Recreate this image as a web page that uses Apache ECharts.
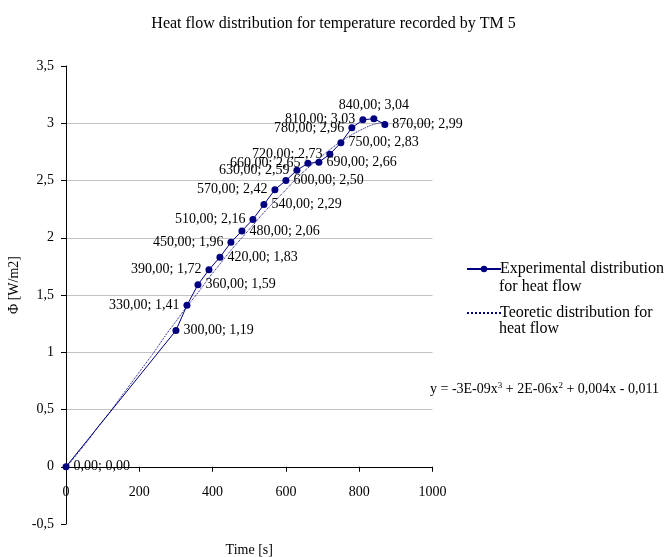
<!DOCTYPE html>
<html>
<head>
<meta charset="utf-8">
<script src="https://cdn.jsdelivr.net/npm/echarts@6/dist/echarts.min.js"></script>
<style>
html,body{margin:0;padding:0;background:#fff;}
#chart{width:667px;height:557px;}
</style>
</head>
<body>
<div id="chart"></div>
<script>
// ---- data ----
const timeS = [0, 300, 330, 360, 390, 420, 450, 480, 510, 540, 570, 600, 630, 660, 690, 720, 750, 780, 810, 840, 870];
const heatFlow = [0.00, 1.19, 1.41, 1.59, 1.72, 1.83, 1.96, 2.06, 2.16, 2.29, 2.42, 2.50, 2.59, 2.65, 2.66, 2.73, 2.83, 2.96, 3.03, 3.04, 2.99];

// dotted trend curve
const trendTime = [0, 30, 60, 90, 120, 150, 180, 210, 240, 270, 300, 330, 360, 390, 420, 450, 480, 510, 540, 570, 600, 630, 660, 690, 720, 750, 780, 810, 840, 870];
const trendFlow = [-0.01, 0.11, 0.23, 0.36, 0.48, 0.61, 0.74, 0.87, 1.00, 1.14, 1.27, 1.40, 1.52, 1.65, 1.77, 1.89, 2.00, 2.11, 2.22, 2.32, 2.42, 2.52, 2.61, 2.69, 2.77, 2.84, 2.90, 2.95, 2.99, 3.01];

const seriesNames = ['Experimental distribution for heat flow', 'Teoretic distribution for heat flow'];
const legendFirstLines = ['Experimental distribution', 'Teoretic distribution for'];
const legendSecondLines = ['for heat flow', 'heat flow'];
const titleText = 'Heat flow distribution for temperature recorded by TM 5';
const xAxisName = 'Time [s]';
const yAxisName = 'Φ [W/m2]';
const equationText = 'y = -3E-09x{sup|3} + 2E-06x{sup|2} + 0,004x - 0,011';
const xRange = [0, 1000, 200];
const yRange = [-0.5, 3.5, 0.5];

// label placement for each point (side, dx, dy) – styling only
const pointLabelLayout = [
  ['right', 0, 1], ['right', 0, 1], ['left', 0, 1], ['right', 0, 1], ['left', 0, -2],
  ['right', 0, 1], ['left', 0, 2], ['right', 0, 1], ['left', 0, -2], ['right', 0, 1],
  ['left', 0, 0], ['right', 0, 0], ['left', 0, -2], ['left', 0, -3], ['right', 0, 5],
  ['left', 0, -5], ['right', 0, 1], ['left', 0, 4], ['left', 0, -4], ['top', -13, 0],
  ['right', 0, 2]
];

const SERIF = '"Liberation Serif", "Times New Roman", serif';
const NAVY = '#000080';
const comma = v => String(v).replace('.', ',');
const fmt2 = v => v.toFixed(2).replace('.', ',');

const GRID_TOP = 66, GRID_BOTTOM = 33, CHART_H = 557;
const plotH = CHART_H - GRID_TOP - GRID_BOTTOM;
// shift the x axis (line, ticks, labels, name) up to the y = 0 line
const zeroShift = plotH * (0 - yRange[0]) / (yRange[1] - yRange[0]);

const expData = timeS.map((t, i) => {
  const spec = pointLabelLayout[i];
  return {
    value: [t, heatFlow[i]],
    label: { position: spec[0], offset: [spec[1], spec[2]], distance: spec[0] === 'top' ? 3 : 4 }
  };
});
const trendData = trendTime.map((t, i) => [t, trendFlow[i]]);

const chart = echarts.init(document.getElementById('chart'), null, { renderer: 'canvas' });
chart.setOption({
  animation: false,
  backgroundColor: '#fff',
  title: {
    text: titleText,
    left: 'center',
    top: 11,
    textStyle: { fontFamily: SERIF, fontSize: 16, fontWeight: 'normal', color: '#000' }
  },
  grid: { left: 66, right: 234.5, top: GRID_TOP, bottom: GRID_BOTTOM, containLabel: false, outerBoundsMode: 'none' },
  xAxis: {
    type: 'value',
    min: xRange[0], max: xRange[1], interval: xRange[2],
    offset: -zeroShift,
    name: xAxisName,
    nameLocation: 'middle',
    nameGap: 77,
    nameTextStyle: { fontFamily: SERIF, fontSize: 14, color: '#000' },
    axisLine: { show: true, onZero: false, lineStyle: { color: '#000', width: 1 } },
    axisTick: { show: true, length: 5, lineStyle: { color: '#000' } },
    axisLabel: { margin: 19, fontFamily: SERIF, fontSize: 14, color: '#000', formatter: v => String(v) },
    splitLine: { show: false }
  },
  yAxis: {
    type: 'value',
    min: yRange[0], max: yRange[1], interval: yRange[2],
    name: yAxisName,
    nameLocation: 'middle',
    nameRotate: 90,
    nameGap: 40,
    nameTextStyle: { fontFamily: SERIF, fontSize: 14, color: '#000', padding: [0, 0, 0, 20] },
    axisLine: { show: true, onZero: false, lineStyle: { color: '#000', width: 1 } },
    axisTick: { show: true, length: 5, lineStyle: { color: '#000' } },
    axisLabel: { margin: 12, fontFamily: SERIF, fontSize: 14, color: '#000', formatter: v => comma(v) },
    splitLine: { show: true, showMinLine: false, showMaxLine: false, lineStyle: { color: '#c4c4c4', width: 1 } }
  },
  legend: {
    orient: 'vertical',
    left: 461,
    top: 254.5,
    itemWidth: 34,
    itemHeight: 8,
    itemGap: 25,
    selectedMode: false,
    data: [
      { name: seriesNames[0] },
      { name: seriesNames[1], itemStyle: { opacity: 0 } }
    ],
    formatter: name => legendFirstLines[seriesNames.indexOf(name)],
    textStyle: { fontFamily: SERIF, fontSize: 16, color: '#000', lineHeight: 19, padding: [0, 0, 0, -6] }
  },
  graphic: [
    { type: 'text', x: 499, y: 287, style: { text: legendSecondLines[0], font: '16px ' + SERIF, fill: '#000', verticalAlign: 'middle' } },
    { type: 'text', x: 499, y: 329, style: { text: legendSecondLines[1], font: '16px ' + SERIF, fill: '#000', verticalAlign: 'middle' } },
    { type: 'text', x: 430, y: 381, style: {
        text: equationText, font: '14px ' + SERIF, fill: '#000', lineHeight: 16,
        rich: { sup: { fontSize: 9, fontFamily: SERIF, verticalAlign: 'top', lineHeight: 16, padding: [0, 0, 6, 0] } }
      } }
  ],
  series: [
    {
      name: seriesNames[1],
      type: 'line',
      data: trendData,
      smooth: true,
      symbol: 'none',
      lineStyle: { color: NAVY, width: 1, type: 'dotted' },
      itemStyle: { color: NAVY },
      z: 2
    },
    {
      name: seriesNames[0],
      type: 'line',
      data: expData,
      symbol: 'circle',
      symbolSize: 7,
      showAllSymbol: true,
      lineStyle: { color: NAVY, width: 1 },
      itemStyle: { color: NAVY },
      label: {
        show: true,
        fontFamily: SERIF,
        fontSize: 14,
        color: '#000',
        formatter: p => fmt2(p.value[0]) + '; ' + fmt2(p.value[1])
      },
      labelLayout: { hideOverlap: false },
      z: 3
    }
  ]
});
</script>
</body>
</html>
